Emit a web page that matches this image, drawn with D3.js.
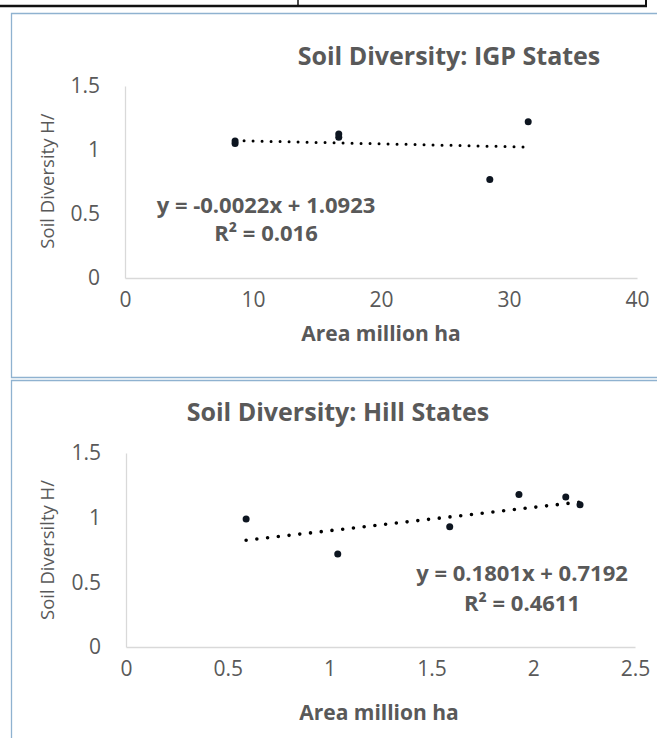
<!DOCTYPE html>
<html>
<head>
<meta charset="utf-8">
<script src="https://cdn.jsdelivr.net/npm/d3@7"></script>
<style>
  body { margin: 0; background: #fff; }
  svg text { font-family: "Open Sans", "Noto Sans", sans-serif; fill: #595959; }
</style>
</head>
<body>
<div id="chart"></div>
<script>
// data
var igpArea = [8.6, 8.6, 16.7, 16.7, 28.5, 31.5];
var igpH = [1.05, 1.07, 1.125, 1.10, 0.77, 1.22];
var hillArea = [0.59, 1.04, 1.59, 1.93, 2.16, 2.23];
var hillH = [0.99, 0.72, 0.93, 1.18, 1.16, 1.10];

var igpXTicks = [0, 10, 20, 30, 40];
var hillXTicks = [0, 0.5, 1, 1.5, 2, 2.5];
var yTicks = [0, 0.5, 1, 1.5];

// trendline: slope, intercept (as printed on the charts)
var igpFit = [-0.0022, 1.0923];
var hillFit = [0.1801, 0.7192];

var titles = ["Soil Diversity: IGP States", "Soil Diversity: Hill States"];
var yTitles = ["Soil Diversity H/", "Soil Diversilty H/"];
var xTitle = "Area million ha";
var eqLabels = ["y = -0.0022x + 1.0923", "y = 0.1801x + 0.7192"];
var r2Labels = ["R\u00b2 = 0.016", "R\u00b2 = 0.4611"];

var W = 657, H = 738;

var svg = d3.select("#chart").append("svg")
	.attr("width", W)
	.attr("height", H);

// remains of the table above the charts
svg.append("line").attr("x1", 0).attr("x2", 647).attr("y1", 6).attr("y2", 6)
	.style("stroke", "#111").style("stroke-width", 2.5);
svg.append("line").attr("x1", 298).attr("x2", 298).attr("y1", 0).attr("y2", 6)
	.style("stroke", "#111").style("stroke-width", 1.5);
svg.append("line").attr("x1", 646).attr("x2", 646).attr("y1", 0).attr("y2", 7)
	.style("stroke", "#111").style("stroke-width", 2);

// panel frames
svg.append("path")
	.attr("d", "M657,13.5 H11.5 V377.5 H657")
	.style("fill", "none").style("stroke", "#8fb2d0").style("stroke-width", 1.3);
svg.append("path")
	.attr("d", "M657,380.5 H11.5 V738")
	.style("fill", "none").style("stroke", "#8fb2d0").style("stroke-width", 1.3);

var panels = [
	{ xs: igpArea, ys: igpH, xTicks: igpXTicks, xMax: 40, fit: igpFit,
	  left: 125, right: 637, top: 86, bottom: 278,
	  titleX: 449, titleY: 56, xTitleX: 381, xTitleY: 333, yTitleY: 181,
	  eqX: 266, eqY: 205, r2Y: 233, dash: "0 9", dotW: 3 },
	{ xs: hillArea, ys: hillH, xTicks: hillXTicks, xMax: 2.5, fit: hillFit,
	  left: 126, right: 635, top: 453, bottom: 647,
	  titleX: 338, titleY: 412, xTitleX: 379, xTitleY: 712, yTitleY: 550,
	  eqX: 522, eqY: 573, r2Y: 603, dash: "0 10.8", dotW: 3.6 }
];

panels.forEach(function(p, i) {
	var x = d3.scaleLinear().domain([0, p.xMax]).range([p.left, p.right]);
	var y = d3.scaleLinear().domain([0, 1.5]).range([p.bottom, p.top]);
	var g = svg.append("g");

	var yAxis = g.append("g")
		.attr("transform", "translate(" + p.left + ",0)")
		.call(d3.axisLeft(y).tickValues(yTicks).tickSize(0).tickPadding(25)
			.tickFormat(function(d) { return String(d); }));
	var xAxis = g.append("g")
		.attr("transform", "translate(0," + p.bottom + ")")
		.call(d3.axisBottom(x).tickValues(p.xTicks).tickSize(0).tickPadding(14)
			.tickFormat(function(d) { return String(d); }));

	[yAxis, xAxis].forEach(function(a) {
		a.select(".domain").style("stroke", "#d9d9d9").style("stroke-width", 1.3);
		a.selectAll("text").style("font-size", "21px").style("fill", "#595959");
	});

	// title + axis titles
	g.append("text")
		.attr("x", p.titleX).attr("y", p.titleY).attr("dy", "0.36em")
		.attr("text-anchor", "middle")
		.style("font-size", "25px").style("font-weight", "bold")
		.text(titles[i]);
	g.append("text")
		.attr("x", p.xTitleX).attr("y", p.xTitleY).attr("dy", "0.36em")
		.attr("text-anchor", "middle")
		.style("font-size", "21px").style("font-weight", "bold")
		.text(xTitle);
	g.append("text")
		.attr("transform", "translate(47," + p.yTitleY + ") rotate(-90)")
		.attr("dy", "0.36em")
		.attr("text-anchor", "middle")
		.style("font-size", "18.5px")
		.text(yTitles[i]);

	// trendline over the range of the points
	var x0 = d3.min(p.xs), x1 = d3.max(p.xs);
	g.append("line")
		.attr("x1", x(x0)).attr("y1", y(p.fit[0] * x0 + p.fit[1]))
		.attr("x2", x(x1)).attr("y2", y(p.fit[0] * x1 + p.fit[1]))
		.style("stroke", "#000")
		.style("stroke-width", p.dotW)
		.style("stroke-linecap", "round")
		.style("stroke-dasharray", p.dash);

	g.selectAll("circle")
		.data(d3.range(p.xs.length))
		.enter().append("circle")
		.attr("cx", function(k) { return x(p.xs[k]); })
		.attr("cy", function(k) { return y(p.ys[k]); })
		.attr("r", 3.5)
		.style("fill", "#0d1520");

	g.append("text")
		.attr("x", p.eqX).attr("y", p.eqY).attr("dy", "0.36em")
		.attr("text-anchor", "middle")
		.style("font-size", "22px").style("font-weight", "bold")
		.text(eqLabels[i]);
	g.append("text")
		.attr("x", p.eqX).attr("y", p.r2Y).attr("dy", "0.36em")
		.attr("text-anchor", "middle")
		.style("font-size", "22px").style("font-weight", "bold")
		.text(r2Labels[i]);
});
</script>
</body>
</html>
